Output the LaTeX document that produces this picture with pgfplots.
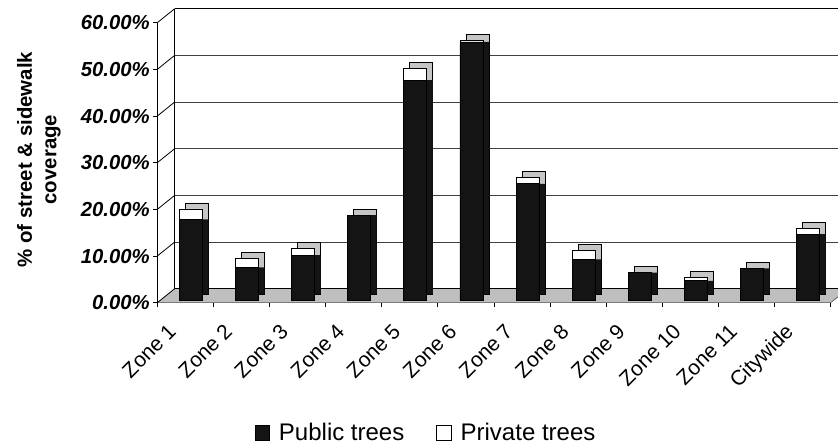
\documentclass[border=0pt]{standalone}
\usepackage{fontspec}
\setmainfont{Liberation Sans}
\usepackage{pgfplots}
\pgfplotsset{compat=1.18}
\usepackage{pgfplotstable}

\pgfplotstableread{
x pub priv
0 17.3 2.2
1 7.0 1.9
2 9.6 1.5
3 18.2 0
4 47.1 2.5
5 55.3 0.35
6 24.9 1.3
7 8.7 1.9
8 5.85 0
9 4.1 0.75
10 6.8 0
11 14.1 1.3
}\datatable

\begin{document}
\begin{tikzpicture}[x=1pt,y=1pt,
  catlabel/.style={anchor=base east, rotate=45, inner sep=0pt, font=\fontsize{21}{25}\selectfont}]
\path[use as bounding box] (0,0) rectangle (838,446);
\clip (0,0) rectangle (838,446);
% ---------- front axis: floor, walls, ticks, labels
\begin{axis}[
  at={(157.3pt,143.3pt)}, anchor=south west, scale only axis,
  width=673.4pt, height=280pt,
  xmin=-0.5, xmax=11.5, ymin=0, ymax=60, clip=false,
  axis lines=left, axis line style={-, line width=0.8pt, black},
  tick align=outside, major tick length=4pt,
  tick style={black, line width=0.8pt},
  xtick={-0.5,0.5,1.5,2.5,3.5,4.5,5.5,6.5,7.5,8.5,9.5,10.5,11.5},
  xticklabels={},
  ytick={0,10,20,30,40,50,60},
  yticklabels={0.00\%,10.00\%,20.00\%,30.00\%,40.00\%,50.00\%,60.00\%},
  yticklabel style={font=\bfseries\itshape\fontsize{20.3}{24}\selectfont},
  every axis y label/.style={at={(axis description cs:-0.1757,0.511)}, rotate=90, anchor=center,
    align=center, font=\bfseries\fontsize{20.4}{24.5}\selectfont},
  ylabel={\% of street \& sidewalk\\coverage},
]
% floor
\fill[gray!50] (axis cs:-0.5,0) -- (axis cs:11.5,0) -- (axis cs:11.81,3) -- (axis cs:-0.19,3) -- cycle;
\draw[line width=1.6pt] (axis cs:-0.19,3) -- (axis cs:11.81,3);
\draw[line width=0.6pt, gray!60!black] (axis cs:11.5,0) -- (axis cs:11.81,3);
% back wall
\draw[line width=0.9pt] (axis cs:-0.19,3) -- (axis cs:-0.19,63);
\draw[line width=1.2pt] (axis cs:-0.19,63) -- (axis cs:11.81,63);
\pgfplotsinvokeforeach{13,23,33,43,53}{
  \draw[line width=0.8pt, black!75] (axis cs:-0.19,#1) -- (axis cs:11.81,#1);
}
% side wall diagonals
\draw[line width=0.8pt] (axis cs:-0.5,0) -- (axis cs:-0.19,3);
\draw[line width=0.8pt] (axis cs:-0.5,10) -- (axis cs:-0.19,13);
\draw[line width=0.8pt] (axis cs:-0.5,20) -- (axis cs:-0.19,23);
\draw[line width=0.8pt] (axis cs:-0.5,30) -- (axis cs:-0.19,33);
\draw[line width=0.8pt] (axis cs:-0.5,40) -- (axis cs:-0.19,43);
\draw[line width=0.8pt] (axis cs:-0.5,50) -- (axis cs:-0.19,53);
\draw[line width=0.8pt] (axis cs:-0.5,60) -- (axis cs:-0.19,63);
% category labels
\node[catlabel] at ([xshift=-8pt,yshift=-30pt]axis cs:0,0) {Zone 1};
\node[catlabel] at ([xshift=-8pt,yshift=-30pt]axis cs:1,0) {Zone 2};
\node[catlabel] at ([xshift=-8pt,yshift=-30pt]axis cs:2,0) {Zone 3};
\node[catlabel] at ([xshift=-8pt,yshift=-30pt]axis cs:3,0) {Zone 4};
\node[catlabel] at ([xshift=-8pt,yshift=-30pt]axis cs:4,0) {Zone 5};
\node[catlabel] at ([xshift=-8pt,yshift=-30pt]axis cs:5,0) {Zone 6};
\node[catlabel] at ([xshift=-8pt,yshift=-30pt]axis cs:6,0) {Zone 7};
\node[catlabel] at ([xshift=-8pt,yshift=-30pt]axis cs:7,0) {Zone 8};
\node[catlabel] at ([xshift=-8pt,yshift=-30pt]axis cs:8,0) {Zone 9};
\node[catlabel] at ([xshift=-8pt,yshift=-30pt]axis cs:9,0) {Zone 10};
\node[catlabel] at ([xshift=-8pt,yshift=-30pt]axis cs:10,0) {Zone 11};
\node[catlabel] at ([xshift=-8pt,yshift=-30pt]axis cs:11,0) {Citywide};
\end{axis}

% ---------- depth (top and side faces) of the bars
\begin{axis}[
  at={(168.8pt,152pt)}, anchor=south west, scale only axis,
  width=673.4pt, height=280pt,
  xmin=-0.5, xmax=11.5, ymin=0, ymax=60, hide axis, clip=false,
  ybar, bar width=23pt,
]
\addplot[bar shift=0pt, fill=gray!45, draw=black, line width=0.8pt]
  table[x=x, y expr={\thisrow{pub}+\thisrow{priv}}] {\datatable};
\addplot[bar shift=0pt, fill=black!92, draw=none]
  table[x=x, y expr={max(\thisrow{pub}-1.29,0)}] {\datatable};
\end{axis}

% ---------- front faces of the stacked bars
\begin{axis}[
  at={(162.8pt,146pt)}, anchor=south west, scale only axis,
  width=673.4pt, height=280pt,
  xmin=-0.5, xmax=11.5, ymin=0, ymax=60, hide axis, clip=false,
  ybar stacked, bar width=23pt,
  legend image code/.code={\draw[#1, draw=black, line width=0.8pt] (0pt,-7pt) rectangle (14.5pt,7.5pt);},
  legend style={at={(axis description cs:0.3909,-0.475)}, anchor=center, draw=none,
    font=\fontsize{24}{28}\selectfont, legend columns=2,
    /tikz/every odd column/.append style={column sep=7pt},
    /tikz/every even column/.append style={column sep=30pt}},
]
\addplot[fill=black!92, draw=black, line width=0.8pt] table[x=x, y=pub] {\datatable};
\addplot[fill=white, draw=black, line width=0.8pt] table[x=x, y=priv] {\datatable};
\legend{Public trees, Private trees}
\end{axis}
\end{tikzpicture}
\end{document}
